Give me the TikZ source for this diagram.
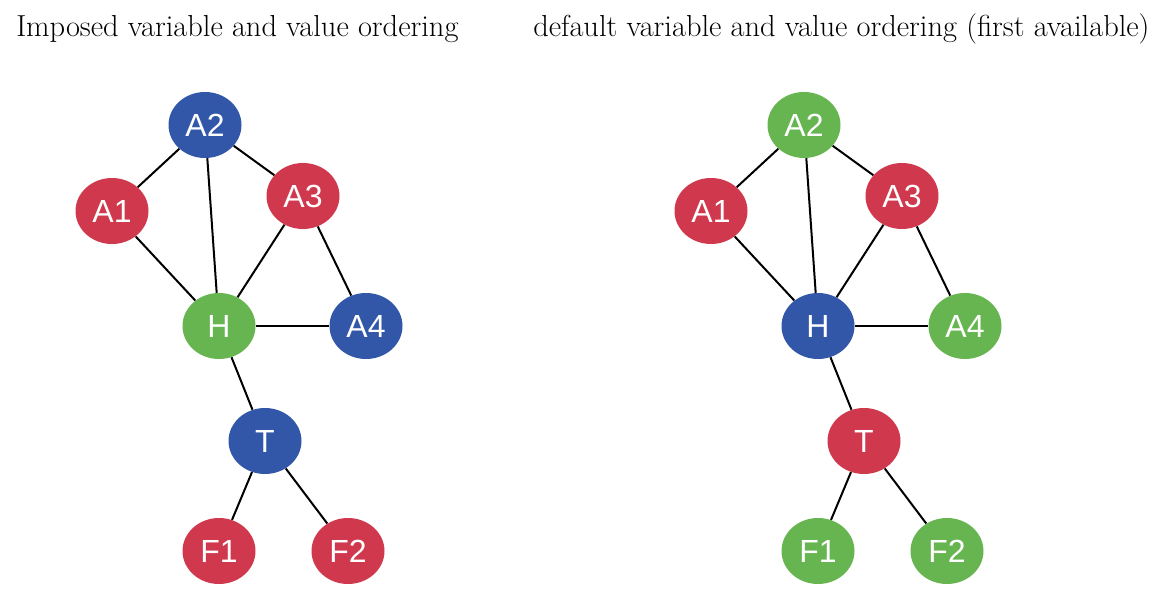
\documentclass[tikz,border=0pt]{standalone}
\usepackage{fontspec}
\usepackage{xcolor}
\usepackage{tikz}
\usetikzlibrary{shapes.geometric}

\newfontfamily\nodefont{Liberation Sans}
\definecolor{colred}{HTML}{D0394D}
\definecolor{colblue}{HTML}{3256A8}
\definecolor{colgreen}{HTML}{67B551}

\tikzset{
    var/.style={ellipse, minimum width=54.75pt, minimum height=49.5pt, inner sep=0pt,
        text=white, font=\nodefont\fontsize{24}{24}\selectfont},
    title/.style={anchor=base west, inner sep=0pt, font=\fontsize{22.8}{22.8}\selectfont},
    edge/.style={-, line width=1.5pt}
}

\begin{document}
\begin{tikzpicture}[x=0.75pt,y=-0.75pt]
    \useasboundingbox (0,0) rectangle (1154,602);

    \node[title] (tl) at (16,37) {Imposed variable and value ordering};
    \node[title] (tr) at (533,37) {default variable and value ordering (first available)};

    % imposed ordering
    \node[var,fill=colblue]  (A2l) at (205,125) {A2};
    \node[var,fill=colred]   (A1l) at (112,211) {A1};
    \node[var,fill=colred]   (A3l) at (303,196) {A3};
    \node[var,fill=colgreen] (Hl)  at (219,326) {H};
    \node[var,fill=colblue]  (A4l) at (366,326) {A4};
    \node[var,fill=colblue]  (Tl)  at (265,441) {T};
    \node[var,fill=colred]   (F1l) at (219,551) {F1};
    \node[var,fill=colred]   (F2l) at (348,551) {F2};

    % first available
    \node[var,fill=colgreen] (A2r) at (804,125) {A2};
    \node[var,fill=colred]   (A1r) at (711,211) {A1};
    \node[var,fill=colred]   (A3r) at (902,196) {A3};
    \node[var,fill=colblue]  (Hr)  at (818,326) {H};
    \node[var,fill=colgreen] (A4r) at (965,326) {A4};
    \node[var,fill=colred]   (Tr)  at (864,441) {T};
    \node[var,fill=colgreen] (F1r) at (818,551) {F1};
    \node[var,fill=colgreen] (F2r) at (947,551) {F2};

    \foreach \s in {l,r} {
        \draw[edge] (A2\s) -- (A1\s);
        \draw[edge] (A2\s) -- (A3\s);
        \draw[edge] (A2\s) -- (H\s);
        \draw[edge] (A1\s) -- (H\s);
        \draw[edge] (A3\s) -- (H\s);
        \draw[edge] (A3\s) -- (A4\s);
        \draw[edge] (H\s) -- (A4\s);
        \draw[edge] (H\s) -- (T\s);
        \draw[edge] (T\s) -- (F1\s);
        \draw[edge] (T\s) -- (F2\s);
    }
\end{tikzpicture}
\end{document}
